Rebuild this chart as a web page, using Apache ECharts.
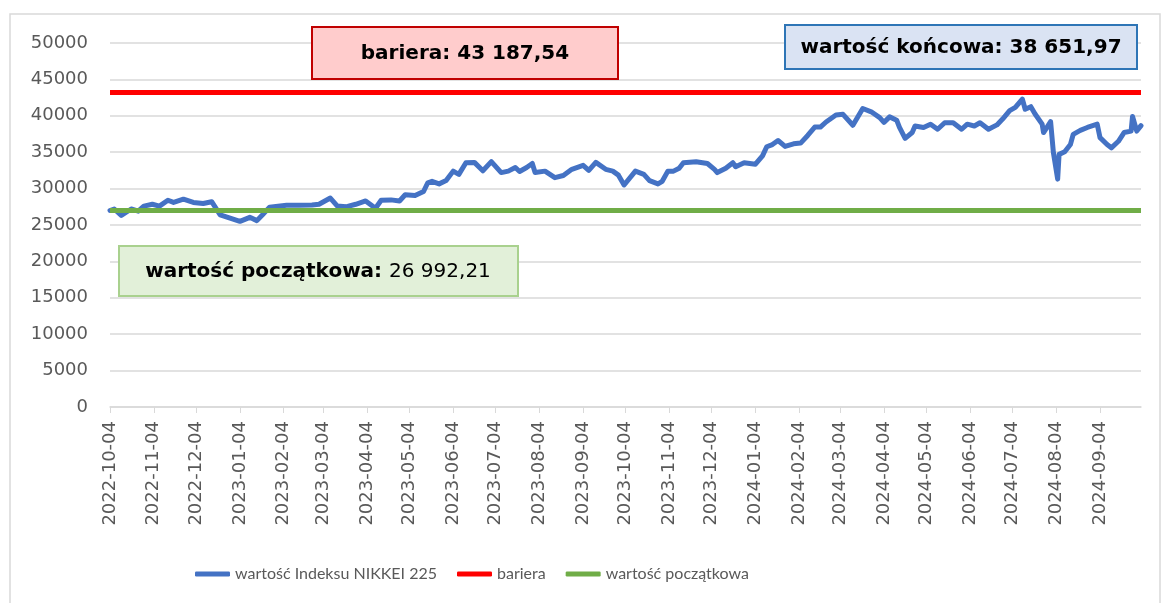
<!DOCTYPE html>
<html>
<head>
<meta charset="utf-8">
<script src="https://cdn.jsdelivr.net/npm/echarts@6/dist/echarts.min.js"></script>
<style>
  html, body { margin: 0; padding: 0; background: #fff; }
  #main { width: 1162px; height: 603px; }
</style>
</head>
<body>
<div id="main"></div>
<script>
// zakres dat osi
var startDate = '2022-10-04';
var endDate = '2024-10-03';

// notowania NIKKEI 225
var nikkeiDates = [
  '2022-10-04','2022-10-07','2022-10-12','2022-10-19','2022-10-24','2022-10-28','2022-11-03','2022-11-08',
  '2022-11-14','2022-11-18','2022-11-25','2022-12-02','2022-12-09','2022-12-15','2022-12-21','2022-12-28',
  '2023-01-04','2023-01-11','2023-01-16','2023-01-20','2023-01-25','2023-02-06','2023-02-15','2023-02-24',
  '2023-03-01','2023-03-09','2023-03-14','2023-03-20','2023-03-27','2023-04-03','2023-04-10','2023-04-14',
  '2023-04-21','2023-04-27','2023-05-01','2023-05-08','2023-05-14','2023-05-17','2023-05-20','2023-05-25',
  '2023-05-30','2023-06-04','2023-06-08','2023-06-13','2023-06-19','2023-06-25','2023-07-01','2023-07-08',
  '2023-07-13','2023-07-18','2023-07-21','2023-07-26','2023-07-30','2023-08-01','2023-08-08','2023-08-15',
  '2023-08-21','2023-08-27','2023-09-04','2023-09-08','2023-09-13','2023-09-20','2023-09-25','2023-09-29',
  '2023-10-03','2023-10-11','2023-10-17','2023-10-21','2023-10-27','2023-10-30','2023-11-03','2023-11-07',
  '2023-11-11','2023-11-14','2023-11-23','2023-12-01','2023-12-06','2023-12-08','2023-12-14','2023-12-19',
  '2023-12-21','2023-12-27','2024-01-04','2024-01-09','2024-01-12','2024-01-16','2024-01-20','2024-01-25',
  '2024-01-31','2024-02-05','2024-02-10','2024-02-15','2024-02-19','2024-02-23','2024-03-01','2024-03-06',
  '2024-03-13','2024-03-20','2024-03-26','2024-04-01','2024-04-04','2024-04-08','2024-04-13','2024-04-15',
  '2024-04-19','2024-04-24','2024-04-26','2024-05-02','2024-05-07','2024-05-12','2024-05-17','2024-05-23',
  '2024-05-29','2024-06-02','2024-06-07','2024-06-11','2024-06-17','2024-06-23','2024-06-27','2024-07-02',
  '2024-07-06','2024-07-11','2024-07-13','2024-07-17','2024-07-20','2024-07-25','2024-07-26','2024-07-31',
  '2024-08-02','2024-08-05','2024-08-06','2024-08-10','2024-08-14','2024-08-16','2024-08-21','2024-08-26',
  '2024-09-02','2024-09-04','2024-09-09','2024-09-12','2024-09-17','2024-09-21','2024-09-26','2024-09-27',
  '2024-09-30','2024-10-03'
];
var nikkeiValues = [
  26992,27200,26300,27200,26900,27600,27850,27600,
  28400,28100,28550,28100,27950,28200,26400,25950,
  25500,26050,25600,26400,27450,27700,27700,27750,
  27850,28700,27600,27500,27850,28300,27300,28400,
  28450,28300,29150,29050,29600,30800,31000,30650,
  31100,32400,31950,33550,33600,32450,33700,32200,
  32400,32900,32350,32900,33450,32200,32400,31500,
  31800,32650,33200,32500,33600,32650,32400,31850,
  30500,32400,31950,31100,30650,31000,32400,32400,
  32800,33550,33700,33450,32650,32200,32800,33550,
  33000,33550,33350,34500,35750,36050,36600,35800,
  36150,36250,37300,38450,38450,39150,40100,40200,
  38700,41000,40550,39750,39100,39850,39400,38400,
  36900,37700,38600,38400,38850,38150,39050,39050,
  38150,38850,38600,39050,38150,38750,39550,40700,
  41150,42300,40900,41250,40250,38850,37700,39200,
  34900,31300,34700,35050,36050,37450,38000,38400,
  38850,37000,36050,35600,36500,37700,37900,39900,
  37900,38652
];

var barierValue = 43187.54;
var startValue = 26992.21;
var endValue = 38651.97;

var yTicks = { min: 0, max: 50000, interval: 5000 };

// wszystkie dni kalendarzowe jako kategorie osi X
var days = [];
(function () {
  var d = new Date(startDate + 'T00:00:00Z');
  var end = new Date(endDate + 'T00:00:00Z');
  while (d <= end) {
    days.push(d.toISOString().slice(0, 10));
    d.setUTCDate(d.getUTCDate() + 1);
  }
})();

var nikkeiData = [];
for (var i = 0; i < nikkeiDates.length; i++) {
  nikkeiData.push([nikkeiDates[i], nikkeiValues[i]]);
}

function isMonthTick(index, value) {
  return value.slice(8) === '04';
}

function fmt(v) {
  var parts = v.toFixed(2).split('.');
  return parts[0].replace(/\B(?=(\d{3})+(?!\d))/g, ' ') + ',' + parts[1];
}

var chart = echarts.init(document.getElementById('main'));
var option = {
  backgroundColor: '#fff',
  animation: false,
  grid: { left: 110, right: 21, top: 43, bottom: 196, containLabel: false },
  legend: {
    top: 561,
    left: 190,
    itemWidth: 35,
    itemHeight: 5,
    itemGap: 20,
    icon: 'roundRect',
    textStyle: { fontFamily: 'Lato', fontSize: 16, color: '#595959' },
    data: ['wartość Indeksu NIKKEI 225', 'bariera', 'wartość początkowa']
  },
  xAxis: {
    type: 'category',
    data: days,
    boundaryGap: false,
    axisLine: { lineStyle: { color: '#d9d9d9', width: 1.5 } },
    axisTick: { show: true, interval: isMonthTick, length: 6, lineStyle: { color: '#d9d9d9' } },
    axisLabel: {
      interval: isMonthTick,
      rotate: 90,
      margin: 14,
      fontFamily: 'DejaVu Sans',
      fontSize: 18,
      color: '#595959'
    },
    splitLine: { show: false }
  },
  yAxis: {
    type: 'value',
    min: yTicks.min,
    max: yTicks.max,
    interval: yTicks.interval,
    axisLine: { show: false },
    axisTick: { show: false },
    axisLabel: {
      margin: 22, fontFamily: 'DejaVu Sans', fontSize: 18, color: '#595959',
      formatter: function (v) { return String(v); }
    },
    splitLine: { lineStyle: { color: '#d9d9d9', width: 1.5 } }
  },
  series: [
    {
      name: 'wartość Indeksu NIKKEI 225',
      type: 'line',
      data: nikkeiData,
      connectNulls: true,
      showSymbol: false,
      symbol: 'none',
      color: '#4472c4',
      lineStyle: { width: 5, color: '#4472c4', join: 'round', cap: 'round' }
    },
    {
      name: 'bariera',
      type: 'line',
      data: [[startDate, barierValue], [endDate, barierValue]],
      symbol: 'none',
      color: '#ff0000',
      lineStyle: { width: 5, color: '#ff0000' }
    },
    {
      name: 'wartość początkowa',
      type: 'line',
      data: [[startDate, startValue], [endDate, startValue]],
      symbol: 'none',
      color: '#70ad47',
      lineStyle: { width: 5, color: '#70ad47' }
    }
  ],
  graphic: [
    {
      type: 'rect', silent: true, z: -1,
      shape: { x: 10, y: 14, width: 1150, height: 600 },
      style: { fill: 'none', stroke: '#d9d9d9', lineWidth: 1.5 }
    },
    // bariera
    {
      type: 'rect', z: 10,
      shape: { x: 312, y: 27, width: 306, height: 52 },
      style: { fill: '#ffcccc', stroke: '#c00000', lineWidth: 2 }
    },
    {
      type: 'text', z: 11, x: 465, y: 54,
      style: { text: 'bariera: ' + fmt(barierValue), font: 'bold 20px "DejaVu Sans"', fill: '#000', align: 'center', verticalAlign: 'middle' }
    },
    // wartość końcowa
    {
      type: 'rect', z: 10,
      shape: { x: 785, y: 25, width: 352, height: 44 },
      style: { fill: '#dae3f3', stroke: '#2e75b6', lineWidth: 2 }
    },
    {
      type: 'text', z: 11, x: 961, y: 48,
      style: { text: 'wartość końcowa: ' + fmt(endValue), font: 'bold 20px "DejaVu Sans"', fill: '#000', align: 'center', verticalAlign: 'middle' }
    },
    // wartość początkowa
    {
      type: 'rect', z: 10,
      shape: { x: 119, y: 246, width: 399, height: 50 },
      style: { fill: '#e2f0d9', stroke: '#a9d18e', lineWidth: 2 }
    },
    {
      type: 'text', z: 11, x: 318, y: 272,
      style: {
        text: '{b|wartość początkowa: }{n|' + fmt(startValue) + '}',
        align: 'center', verticalAlign: 'middle',
        rich: {
          b: { fontFamily: 'DejaVu Sans', fontWeight: 'bold', fontSize: 20, fill: '#000' },
          n: { fontFamily: 'DejaVu Sans', fontSize: 20, fill: '#000' }
        }
      }
    }
  ]
};
chart.setOption(option);
</script>
</body>
</html>
